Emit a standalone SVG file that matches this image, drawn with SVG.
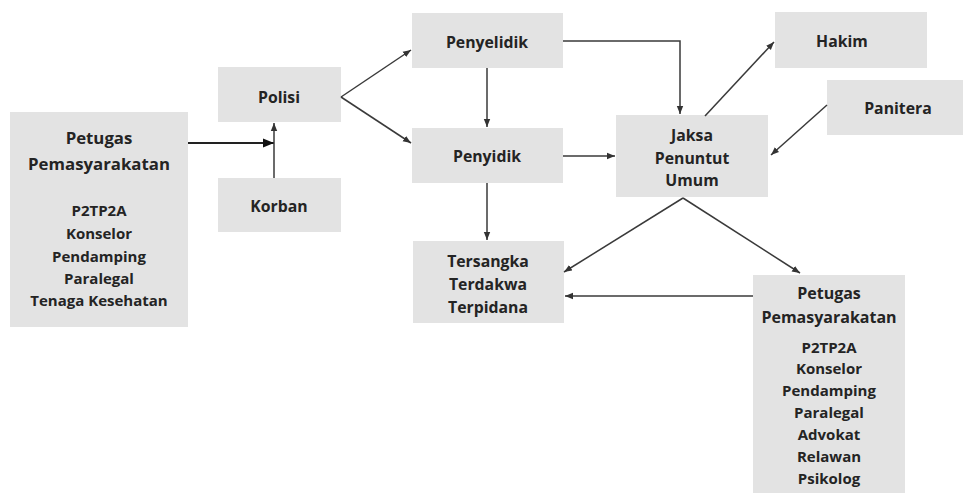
<svg xmlns="http://www.w3.org/2000/svg" width="963" height="493" viewBox="0 0 963 493">
<style>
.box{fill:#e3e3e3}
text{font-family:"Open Sans","Noto Sans",sans-serif;font-weight:700;fill:#242424;text-anchor:middle;dominant-baseline:central}
.t{font-size:15.8px}
.tl{font-size:16.8px}
.tr{font-size:16px}
.s{font-size:15px}
.c{fill:none;stroke:#3a3a3a;stroke-width:1.5}
.thick{stroke:#222;stroke-width:2.2}
</style>
<defs>
<marker id="ah" viewBox="0 0 10 10" refX="10" refY="5" markerWidth="8" markerHeight="8" markerUnits="userSpaceOnUse" orient="auto">
<path d="M0,1 L10,5 L0,9 z" fill="#333"/>
</marker>
<marker id="ahb" viewBox="0 0 10 10" refX="10" refY="5" markerWidth="11" markerHeight="11" markerUnits="userSpaceOnUse" orient="auto">
<path d="M0,1 L10,5 L0,9 z" fill="#111"/>
</marker>
</defs>
<rect width="963" height="493" fill="#fff"/>
<g id="petugas-left">
<rect class="box" x="10" y="112" width="178" height="215"/>
<text class="tl" x="99" y="137">Petugas</text>
<text class="tl" x="99" y="163">Pemasyarakatan</text>
<text class="s" x="99" y="210">P2TP2A</text>
<text class="s" x="99" y="233">Konselor</text>
<text class="s" x="99" y="256">Pendamping</text>
<text class="s" x="99" y="278">Paralegal</text>
<text class="s" x="99" y="300">Tenaga Kesehatan</text>
</g>
<g id="polisi">
<rect class="box" x="218" y="67" width="123" height="55"/>
<text class="t" x="279" y="97">Polisi</text>
</g>
<g id="korban">
<rect class="box" x="218" y="178" width="123" height="54"/>
<text class="t" x="279" y="206">Korban</text>
</g>
<g id="penyelidik">
<rect class="box" x="412" y="13" width="151" height="55"/>
<text class="t" x="487" y="42">Penyelidik</text>
</g>
<g id="penyidik">
<rect class="box" x="412" y="128" width="151" height="55"/>
<text class="t" x="487" y="156">Penyidik</text>
</g>
<g id="jaksa">
<rect class="box" x="616" y="115" width="152" height="82"/>
<text class="t" x="692" y="135">Jaksa</text>
<text class="t" x="692" y="158">Penuntut</text>
<text class="t" x="692" y="180">Umum</text>
</g>
<g id="hakim">
<rect class="box" x="775" y="12" width="152" height="56"/>
<text class="t" x="842" y="41">Hakim</text>
</g>
<g id="panitera">
<rect class="box" x="827" y="80" width="136" height="55"/>
<text class="t" x="898" y="108">Panitera</text>
</g>
<g id="tersangka">
<rect class="box" x="413" y="241" width="151" height="82"/>
<text class="t" x="488" y="261">Tersangka</text>
<text class="t" x="488" y="284">Terdakwa</text>
<text class="t" x="488" y="307">Terpidana</text>
</g>
<g id="petugas-right">
<rect class="box" x="753" y="275" width="152" height="218"/>
<text class="tr" x="829" y="293">Petugas</text>
<text class="tr" x="829" y="317">Pemasyarakatan</text>
<text class="s" x="829" y="347">P2TP2A</text>
<text class="s" x="829" y="368">Konselor</text>
<text class="s" x="829" y="390">Pendamping</text>
<text class="s" x="829" y="412">Paralegal</text>
<text class="s" x="829" y="434">Advokat</text>
<text class="s" x="829" y="456">Relawan</text>
<text class="s" x="829" y="478">Psikolog</text>
</g>
<g id="connectors">
<line class="c thick" x1="188" y1="143" x2="274" y2="143" marker-end="url(#ahb)"/>
<line class="c" x1="274" y1="178" x2="274" y2="123" marker-end="url(#ah)"/>
<line class="c" x1="341" y1="97" x2="411" y2="50" marker-end="url(#ah)"/>
<line class="c" x1="341" y1="97" x2="411" y2="143" marker-end="url(#ah)"/>
<line class="c" x1="487" y1="68" x2="487" y2="127" marker-end="url(#ah)"/>
<polyline class="c" points="563,41 680,41 680,114" marker-end="url(#ah)"/>
<line class="c" x1="563" y1="156" x2="615" y2="156" marker-end="url(#ah)"/>
<line class="c" x1="705" y1="116" x2="774" y2="42" marker-end="url(#ah)"/>
<line class="c" x1="827" y1="105" x2="771" y2="155" marker-end="url(#ah)"/>
<line class="c" x1="487" y1="183" x2="487" y2="240" marker-end="url(#ah)"/>
<line class="c" x1="683" y1="198" x2="800" y2="273" marker-end="url(#ah)"/>
<line class="c" x1="683" y1="198" x2="564" y2="272" marker-end="url(#ah)"/>
<line class="c" x1="753" y1="296" x2="565" y2="296" marker-end="url(#ah)"/>
</g>
</svg>
